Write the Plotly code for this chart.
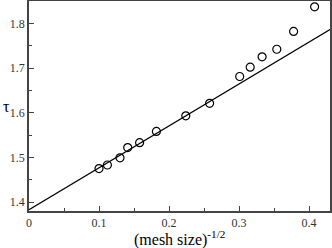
import plotly.graph_objects as go

x_pts = [0.100, 0.112, 0.130, 0.141, 0.158, 0.182, 0.224, 0.258, 0.301, 0.316, 0.333, 0.354, 0.378, 0.408]
tau_pts = [1.475, 1.483, 1.499, 1.522, 1.533, 1.558, 1.593, 1.621, 1.681, 1.702, 1.725, 1.742, 1.782, 1.837]
fit_x = [0.0, 0.43]
fit_tau = [1.383, 1.786]

font = "Liberation Serif"
axc = "#444"
fig = go.Figure()
fig.add_trace(go.Scatter(x=fit_x, y=fit_tau, mode="lines",
                         line=dict(color="black", width=1.3), showlegend=False))
fig.add_trace(go.Scatter(x=x_pts, y=tau_pts, mode="markers",
                         marker=dict(symbol="circle-open", size=8, color="black",
                                     line=dict(width=1.2, color="black")),
                         showlegend=False))

axcommon = dict(showgrid=False, zeroline=False, showline=True, linecolor=axc,
                linewidth=1.5, mirror=True, ticks="inside", ticklen=5, tickcolor=axc,
                tickwidth=1.2, automargin=False,
                tickfont=dict(family=font, size=12, color="#333"))
fig.update_xaxes(range=[0, 0.43], tickvals=[0, 0.1, 0.2, 0.3, 0.4],
                 ticktext=["0", "0.1", "0.2", "0.3", "0.4"],
                 minor=dict(ticks="inside", ticklen=3, dtick=0.05, tickcolor=axc),
                 **axcommon)
fig.update_yaxes(range=[1.38, 1.85], tickvals=[1.4, 1.5, 1.6, 1.7, 1.8],
                 ticktext=["1.4", "1.5", "1.6", "1.7", "1.8"],
                 minor=dict(ticks="inside", ticklen=3, dtick=0.05, tickcolor=axc),
                 **axcommon)
fig.add_annotation(text="(mesh size)<sup>-1/2</sup>", xref="paper", yref="paper",
                   x=0.5, y=0, xanchor="center", yanchor="top", yshift=-15, showarrow=False,
                   font=dict(family=font, size=16, color="black"))
fig.add_annotation(text="τ", xref="paper", yref="paper",
                   x=0, y=0.5, xanchor="center", yanchor="middle", xshift=-23, showarrow=False,
                   font=dict(family=font, size=16, color="black"))
fig.update_layout(width=332, height=248, margin=dict(l=29, r=2, t=1, b=37),
                  plot_bgcolor="white", paper_bgcolor="white")
fig.write_html("out.html", config={"displayModeBar": False},
               post_script="document.body.style.margin='0';document.body.style.padding='0';document.body.style.overflow='hidden';")
